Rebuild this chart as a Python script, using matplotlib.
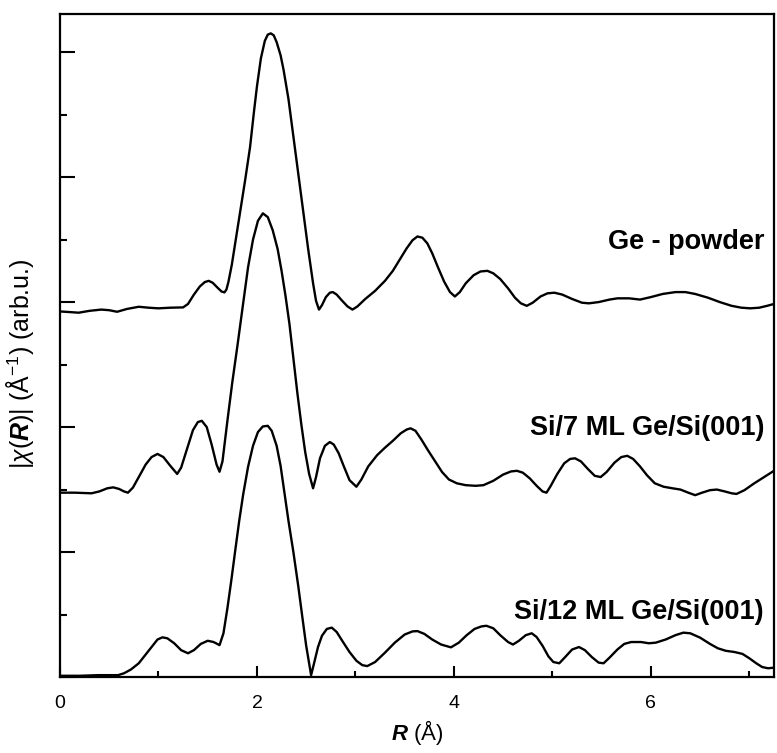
import matplotlib
matplotlib.use("Agg")
import matplotlib.pyplot as plt
from matplotlib.ticker import MultipleLocator, NullFormatter

plt.rcParams['font.family'] = ['Liberation Sans', 'DejaVu Sans']
plt.rcParams['mathtext.fontset'] = 'custom'
plt.rcParams['mathtext.rm'] = 'Liberation Sans'
plt.rcParams['mathtext.it'] = 'Liberation Sans:italic'
plt.rcParams['mathtext.bf'] = 'Liberation Sans:bold'
plt.rcParams['mathtext.bfit'] = 'Liberation Sans:italic:bold'

# |chi(R)| curves as (R, value) pairs, offset vertically (arb. units)
ge_powder = [
    (0.00, 5.85), (0.10, 5.84), (0.19, 5.83), (0.30, 5.86), (0.42, 5.88), (0.50, 5.87),
    (0.58, 5.845), (0.68, 5.89), (0.80, 5.925), (0.90, 5.91), (1.00, 5.90), (1.12, 5.91),
    (1.25, 5.915), (1.30, 5.97), (1.36, 6.12), (1.42, 6.25), (1.47, 6.32), (1.51, 6.34),
    (1.55, 6.31), (1.60, 6.23), (1.64, 6.17), (1.67, 6.155), (1.69, 6.20), (1.71, 6.32),
    (1.745, 6.60), (1.80, 7.15), (1.88, 7.95), (1.93, 8.48), (1.97, 9.05), (2.00, 9.45),
    (2.04, 9.90), (2.08, 10.18), (2.11, 10.28), (2.14, 10.30), (2.17, 10.27), (2.20, 10.16),
    (2.24, 9.95), (2.27, 9.72), (2.32, 9.25), (2.37, 8.65), (2.42, 8.05), (2.47, 7.45),
    (2.52, 6.85), (2.57, 6.30), (2.60, 6.02), (2.63, 5.88), (2.66, 5.95), (2.70, 6.08),
    (2.74, 6.15), (2.77, 6.16), (2.81, 6.12), (2.86, 6.03), (2.92, 5.93), (2.97, 5.88),
    (3.02, 5.93), (3.10, 6.05), (3.20, 6.18), (3.30, 6.34), (3.38, 6.50), (3.45, 6.68),
    (3.52, 6.86), (3.58, 6.99), (3.63, 7.05), (3.68, 7.03), (3.73, 6.94), (3.78, 6.78),
    (3.84, 6.55), (3.90, 6.33), (3.96, 6.16), (4.01, 6.09), (4.06, 6.16), (4.12, 6.30),
    (4.20, 6.43), (4.27, 6.49), (4.34, 6.50), (4.40, 6.46), (4.47, 6.37), (4.55, 6.22),
    (4.62, 6.07), (4.68, 5.98), (4.74, 5.94), (4.80, 5.99), (4.88, 6.09), (4.95, 6.14),
    (5.02, 6.15), (5.10, 6.12), (5.20, 6.05), (5.30, 5.99), (5.37, 5.98), (5.47, 6.00),
    (5.58, 6.04), (5.66, 6.06), (5.78, 6.06), (5.89, 6.04), (6.00, 6.08), (6.12, 6.13),
    (6.25, 6.16), (6.35, 6.16), (6.45, 6.13), (6.58, 6.07), (6.70, 6.00), (6.82, 5.94),
    (6.92, 5.91), (7.01, 5.90), (7.10, 5.91), (7.18, 5.94), (7.25, 5.97),
]

si_7ml = [
    (0.00, 2.95), (0.15, 2.95), (0.32, 2.94), (0.40, 2.97), (0.48, 3.02), (0.54, 3.035),
    (0.60, 3.01), (0.65, 2.97), (0.69, 2.95), (0.74, 3.03), (0.80, 3.20), (0.87, 3.40),
    (0.93, 3.52), (0.99, 3.57), (1.05, 3.52), (1.12, 3.38), (1.19, 3.25), (1.23, 3.35),
    (1.29, 3.65), (1.35, 3.95), (1.40, 4.08), (1.44, 4.10), (1.49, 4.00), (1.54, 3.72),
    (1.59, 3.40), (1.62, 3.285), (1.65, 3.45), (1.70, 4.10), (1.75, 4.72), (1.80, 5.28),
    (1.86, 5.98), (1.91, 6.56), (1.96, 7.00), (2.01, 7.30), (2.06, 7.42), (2.11, 7.36),
    (2.16, 7.15), (2.21, 6.85), (2.25, 6.50), (2.29, 6.10), (2.33, 5.65), (2.37, 5.10),
    (2.41, 4.55), (2.45, 4.05), (2.49, 3.60), (2.53, 3.25), (2.57, 3.02), (2.60, 3.20),
    (2.64, 3.50), (2.69, 3.70), (2.74, 3.76), (2.78, 3.72), (2.83, 3.58), (2.88, 3.38),
    (2.94, 3.15), (3.01, 3.045), (3.06, 3.16), (3.13, 3.37), (3.22, 3.55), (3.30, 3.67),
    (3.38, 3.78), (3.46, 3.90), (3.52, 3.96), (3.56, 3.98), (3.61, 3.94), (3.67, 3.80),
    (3.74, 3.62), (3.81, 3.45), (3.88, 3.28), (3.95, 3.16), (4.03, 3.10), (4.12, 3.07),
    (4.22, 3.06), (4.30, 3.07), (4.40, 3.14), (4.50, 3.24), (4.58, 3.29), (4.64, 3.30),
    (4.70, 3.27), (4.77, 3.18), (4.84, 3.06), (4.90, 2.97), (4.94, 2.95), (4.98, 3.05),
    (5.05, 3.25), (5.12, 3.42), (5.18, 3.49), (5.23, 3.50), (5.29, 3.45), (5.36, 3.33),
    (5.43, 3.22), (5.49, 3.20), (5.55, 3.28), (5.63, 3.43), (5.70, 3.52), (5.76, 3.54),
    (5.82, 3.49), (5.89, 3.37), (5.96, 3.23), (6.04, 3.10), (6.13, 3.045), (6.22, 3.02),
    (6.30, 3.00), (6.38, 2.95), (6.45, 2.91), (6.52, 2.95), (6.60, 2.99), (6.67, 3.00),
    (6.75, 2.97), (6.82, 2.94), (6.87, 2.93), (6.95, 2.99), (7.05, 3.10), (7.15, 3.20),
    (7.25, 3.30),
]

si_12ml = [
    (0.00, 0.02), (0.20, 0.02), (0.39, 0.03), (0.59, 0.03), (0.65, 0.06), (0.72, 0.12),
    (0.80, 0.22), (0.87, 0.36), (0.94, 0.50), (0.99, 0.60), (1.04, 0.635), (1.09, 0.62),
    (1.16, 0.54), (1.23, 0.43), (1.30, 0.38), (1.36, 0.43), (1.43, 0.53), (1.50, 0.58),
    (1.56, 0.56), (1.62, 0.51), (1.66, 0.70), (1.70, 1.10), (1.74, 1.55), (1.78, 2.03),
    (1.82, 2.50), (1.86, 2.92), (1.91, 3.365), (1.96, 3.70), (2.01, 3.92), (2.06, 4.01),
    (2.11, 4.02), (2.15, 3.94), (2.20, 3.70), (2.24, 3.38), (2.27, 3.05), (2.32, 2.50),
    (2.37, 2.00), (2.42, 1.45), (2.46, 0.97), (2.50, 0.50), (2.55, 0.03), (2.58, 0.22),
    (2.62, 0.48), (2.66, 0.66), (2.71, 0.77), (2.76, 0.79), (2.81, 0.72), (2.87, 0.57),
    (2.94, 0.40), (3.01, 0.26), (3.07, 0.19), (3.12, 0.175), (3.20, 0.24), (3.30, 0.39),
    (3.40, 0.55), (3.50, 0.68), (3.58, 0.73), (3.63, 0.735), (3.70, 0.69), (3.78, 0.60),
    (3.87, 0.52), (3.97, 0.475), (4.05, 0.55), (4.13, 0.67), (4.21, 0.77), (4.28, 0.81),
    (4.33, 0.82), (4.40, 0.78), (4.47, 0.67), (4.55, 0.56), (4.60, 0.52), (4.66, 0.58),
    (4.73, 0.67), (4.79, 0.70), (4.84, 0.64), (4.90, 0.50), (4.96, 0.33), (5.01, 0.24),
    (5.07, 0.22), (5.13, 0.32), (5.20, 0.44), (5.27, 0.48), (5.33, 0.43), (5.40, 0.32),
    (5.47, 0.23), (5.52, 0.22), (5.58, 0.31), (5.66, 0.44), (5.73, 0.53), (5.80, 0.56),
    (5.90, 0.56), (5.98, 0.54), (6.05, 0.55), (6.15, 0.60), (6.25, 0.67), (6.33, 0.71),
    (6.40, 0.70), (6.50, 0.63), (6.60, 0.53), (6.68, 0.46), (6.76, 0.42), (6.85, 0.40),
    (6.93, 0.37), (7.00, 0.30), (7.07, 0.22), (7.13, 0.16), (7.19, 0.14), (7.25, 0.15),
]

labels = ['Ge - powder', 'Si/7 ML Ge/Si(001)', 'Si/12 ML Ge/Si(001)']
label_y = [6.96, 3.98, 1.045]

fig = plt.figure(figsize=(7.77, 7.53), dpi=100)
ax = fig.add_axes([0.0772, 0.1009, 0.9189, 0.8805])

for curve in [ge_powder, si_7ml, si_12ml]:
    r, y = zip(*curve)
    ax.plot(r, y, color='black', lw=1.7, solid_joinstyle='round')

for lab, ly in zip(labels, label_y):
    ax.text(7.15, ly, lab, ha='right', va='center', fontsize=19.5, fontweight='bold')

ax.set_xlim(0, 7.25)
ax.set_ylim(0, 10.61)
ax.xaxis.set_major_locator(MultipleLocator(2))
ax.xaxis.set_minor_locator(MultipleLocator(1))
ax.yaxis.set_major_locator(MultipleLocator(2))
ax.yaxis.set_minor_locator(MultipleLocator(1))
ax.yaxis.set_major_formatter(NullFormatter())
ax.tick_params(axis='both', which='both', direction='in', width=1.5, labelsize=14)
ax.tick_params(axis='x', which='major', length=8, pad=13)
ax.tick_params(axis='x', which='minor', length=4)
ax.tick_params(axis='y', which='major', length=10.5)
ax.tick_params(axis='y', which='minor', length=5)
for s in ax.spines.values():
    s.set_linewidth(1.6)

ax.set_xlabel(r'$\mathbfit{R}$ (Å)', fontsize=16, labelpad=4)
ax.set_ylabel(r'|$\chi$($\mathbfit{R}$)| (Å$^{-1}$) (arb.u.)', fontsize=18)
ax.yaxis.set_label_coords(-0.034, 0.472)

plt.savefig('out.png', dpi=100)
